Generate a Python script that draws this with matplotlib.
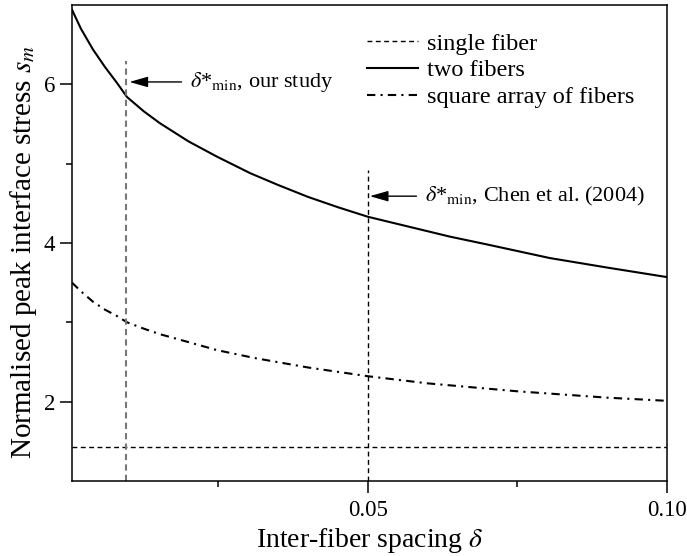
import numpy as np
import matplotlib
matplotlib.use('Agg')
import matplotlib.pyplot as plt

plt.rcParams['font.family'] = ['Liberation Serif', 'DejaVu Serif']
plt.rcParams['mathtext.fontset'] = 'stix'

# values
two_x = [0.0005, 0.002, 0.004, 0.006, 0.008, 0.0097, 0.0125, 0.0152, 0.02, 0.0247,
         0.0303, 0.035, 0.04, 0.045, 0.05, 0.0637, 0.07, 0.0804, 0.09, 0.1]
two_y = [6.94, 6.70, 6.44, 6.22, 6.02, 5.84, 5.66, 5.51, 5.28, 5.09,
         4.88, 4.73, 4.58, 4.45, 4.33, 4.08, 3.98, 3.81, 3.69, 3.57]

sq_x = [0.0005, 0.002, 0.004, 0.006, 0.008, 0.0097, 0.0125, 0.0152, 0.02, 0.0247,
        0.031, 0.04, 0.05, 0.06, 0.075, 0.09, 0.1]
sq_y = [3.50, 3.39, 3.26, 3.16, 3.08, 3.00, 2.92, 2.85, 2.75, 2.65,
        2.55, 2.43, 2.32, 2.23, 2.13, 2.05, 2.01]

single_y = 1.43
delta_ours = 0.0096
delta_chen = 0.05

fig = plt.figure(figsize=(6.87, 5.56), dpi=100)
ax = fig.add_axes([0.1048, 0.135, 0.866, 0.856])

ax.axhline(single_y, color='k', lw=1.0, dashes=(3.5, 2.5), label='single fiber')
ax.plot(two_x, two_y, color='k', lw=1.5, label='two fibers')
ax.plot(sq_x, sq_y, color='k', lw=1.5, dashes=(4, 2.5, 1, 2.5),
        label='square array of fibers')

# vertical markers
ax.plot([delta_ours, delta_ours], [1, 6.29], color='#777777', lw=1.5, dashes=(3, 2))
ax.plot([delta_chen, delta_chen], [1, 4.92], color='k', lw=1.0, dashes=(3.5, 2.5))

arrow = dict(arrowstyle='-|>,head_length=0.7,head_width=0.2', color='k', lw=1.0,
             shrinkA=4, shrinkB=0)
ax.annotate(r'$\delta$*$_{\rm min}$, our study', xy=(0.0101, 6.03),
            xytext=(0.0202, 6.03), ha='left', va='center', fontsize=16,
            arrowprops=arrow)
ax.annotate(r'$\delta$*$_{\rm min}$, Chen et al. (2004)', xy=(0.0503, 4.59),
            xytext=(0.0595, 4.59), ha='left', va='center', fontsize=16,
            arrowprops=arrow)

ax.set_xlim(0.0005, 0.1)
ax.set_ylim(1, 7)
ax.set_xticks([0.05, 0.10])
ax.set_xticklabels(['0.05', '0.10'])
ax.set_xticks([0.025, 0.075], minor=True)
ax.set_yticks([2, 4, 6])
ax.set_yticks([3, 5], minor=True)
ax.tick_params(which='major', direction='out', length=8.5, width=1.1, labelsize=16.5)
ax.tick_params(axis='x', which='major', pad=5)
ax.tick_params(which='minor', direction='out', length=4, width=1.1)
for s in ax.spines.values():
    s.set_linewidth(1.1)

ax.set_xlabel(r'Inter-fiber spacing $\delta$', fontsize=20, labelpad=4)
ax.set_ylabel(r'Normalised peak interface stress $s_m$', fontsize=21)
ax.yaxis.set_label_coords(-0.056, 0.481)

ax.legend(loc='upper left', frameon=False, fontsize=17.5, handlelength=2.1,
          handletextpad=0.35, labelspacing=0.2, borderaxespad=0, borderpad=0,
          bbox_to_anchor=(0.496, 0.942))

fig.savefig('out.png', dpi=100)
